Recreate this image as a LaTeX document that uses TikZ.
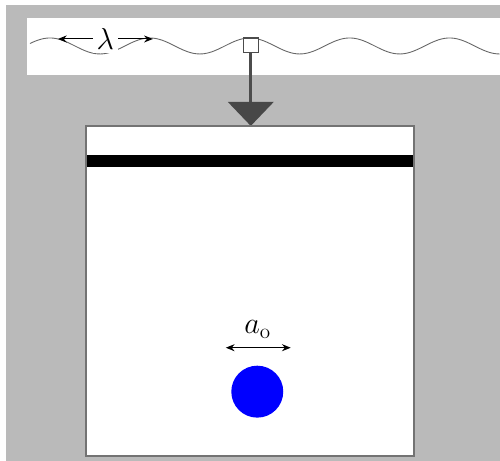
\documentclass[tikz,border=0pt]{standalone}
\usetikzlibrary{arrows.meta}
\begin{document}
\begin{tikzpicture}[x=0.02cm, y=-0.02cm,
    panel/.style={fill=white},
    wave/.style={draw=black!60, line width=0.5pt},
    probe/.style={draw=black!70, fill=white, line width=0.6pt,
                  minimum size=15*0.02cm, inner sep=0pt},
    stem/.style={draw=black!70, line width=1.5pt},
    dim/.style={{Stealth[length=5pt,width=4pt]}-{Stealth[length=5pt,width=4pt]}, line width=0.6pt},
    label/.style={font=\LARGE, fill=white, inner sep=2pt},
]
% background
\fill[white] (0,0) rectangle (500,461);
\fill[black!27] (6,5) rectangle (500,461);

% surface strip with the wave
\fill[panel] (27,18) rectangle (500,75);
\draw[wave] plot[domain=30:500, samples=200, smooth] (\x, {46-8*cos(3.6*(\x-50))});

\draw[dim] (58,39) -- node[label] (lambda) {$\lambda$} (153,39);

% probe and pointer
\node[probe] (sensor) at (251,45.5) {};
\coordinate (tip) at (251,126);
\coordinate (stembase) at (251,103);
\draw[stem] (sensor.south) -- (stembase);
\fill[black!72] (228,102) -- (274,102) -- (tip) -- cycle;

% tank
\node[draw=black!55, line width=0.8pt, fill=white, minimum width=327*0.02cm,
      minimum height=329*0.02cm, inner sep=0pt, anchor=north west] (tank) at (86,126) {};
\fill[black] (86,155) rectangle (413,167.5);
\draw[black!55, line width=0.8pt] (tank.north west) rectangle (tank.south east);

% particle
\node[circle, fill=blue, minimum size=52*0.02cm, inner sep=0pt] (particle) at (257.5,392) {};
\draw[dim] (226,348) -- (291,348);
\node[font=\LARGE, inner sep=0pt] (asize) at (258,330) {$a_{\mathrm{o}}$};
\end{tikzpicture}
\end{document}
